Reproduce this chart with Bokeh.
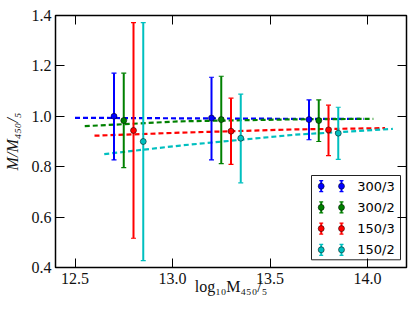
from bokeh.plotting import figure
from bokeh.models import Range1d, FixedTicker, PrintfTickFormatter, LinearAxis
from bokeh.core.properties import value
from bokeh.embed import file_html
from bokeh.resources import INLINE

# ---------------- data ----------------
series_names = ["300/3", "300/2", "150/3", "150/2"]
series_colors = ["#0000ff", "#008000", "#ff0000", "#00bfbf"]

x_300_3 = [12.70, 13.20, 13.70]
y_300_3 = [1.000, 0.993, 0.987]
lo_300_3 = [0.827, 0.827, 0.907]
hi_300_3 = [1.171, 1.155, 1.065]

x_300_2 = [12.75, 13.25, 13.75]
y_300_2 = [0.983, 0.987, 0.983]
lo_300_2 = [0.796, 0.812, 0.900]
hi_300_2 = [1.171, 1.159, 1.065]

x_150_3 = [12.80, 13.30, 13.80]
y_150_3 = [0.944, 0.941, 0.946]
lo_150_3 = [0.516, 0.809, 0.844]
hi_150_3 = [1.372, 1.072, 1.044]

x_150_2 = [12.85, 13.35, 13.85]
y_150_2 = [0.900, 0.913, 0.933]
lo_150_2 = [0.427, 0.736, 0.829]
hi_150_2 = [1.372, 1.088, 1.036]

fit_x_300_3 = [12.50, 13.04, 13.63, 13.98]
fit_y_300_3 = [0.994, 0.992, 0.990, 0.990]
fit_x_300_2 = [12.55, 13.04, 13.63, 14.03]
fit_y_300_2 = [0.961, 0.980, 0.988, 0.990]
fit_x_150_3 = [12.60, 13.04, 13.63, 14.09]
fit_y_150_3 = [0.923, 0.935, 0.948, 0.953]
fit_x_150_2 = [12.65, 13.04, 13.63, 14.13]
fit_y_150_2 = [0.850, 0.884, 0.927, 0.950]

x_ticks = [12.5, 13.0, 13.5, 14.0]
y_ticks = [0.4, 0.6, 0.8, 1.0, 1.2, 1.4]
x_lim = (12.4, 14.2)
y_lim = (0.4, 1.4)
x_title = "log\u2081\u2080M\u2084\u2085\u2080/\u2085"
y_title = "M/M\u2084\u2085\u2080/\u2085"

points = [
    (x_300_3, y_300_3, lo_300_3, hi_300_3),
    (x_300_2, y_300_2, lo_300_2, hi_300_2),
    (x_150_3, y_150_3, lo_150_3, hi_150_3),
    (x_150_2, y_150_2, lo_150_2, hi_150_2),
]
fits = [
    (fit_x_300_3, fit_y_300_3),
    (fit_x_300_2, fit_y_300_2),
    (fit_x_150_3, fit_y_150_3),
    (fit_x_150_2, fit_y_150_2),
]

# ---------------- figure ----------------
FW, FH = 351, 252
p = figure(frame_width=FW, frame_height=FH,
           x_range=Range1d(*x_lim), y_range=Range1d(*y_lim),
           output_backend="svg", toolbar_location=None,
           min_border_left=55, min_border_right=9,
           min_border_top=15, min_border_bottom=45)
p.background_fill_color = "white"
p.border_fill_color = "white"
p.outline_line_color = "black"
p.outline_line_width = 1.5
p.xgrid.visible = False
p.ygrid.visible = False

SERIF = "Liberation Serif"

for ax, ticks in ((p.xaxis[0], x_ticks), (p.yaxis[0], y_ticks)):
    ax.ticker = FixedTicker(ticks=ticks)
    ax.formatter = PrintfTickFormatter(format="%.1f")
    ax.major_tick_in = 9
    ax.major_tick_out = 0
    ax.minor_tick_line_color = None
    ax.axis_line_color = None
    ax.major_tick_line_color = "black"
    ax.major_label_text_font = SERIF
    ax.major_label_text_font_size = "16px"
    ax.major_label_text_color = "#111111"
    ax.axis_label_text_font = SERIF
    ax.axis_label_text_font_size = "16px"
    ax.axis_label_text_color = "#111111"
p.xaxis[0].major_label_standoff = 5
p.yaxis[0].major_label_standoff = 4
p.xaxis[0].axis_label = x_title
p.xaxis[0].axis_label_text_font_style = "normal"
p.xaxis[0].axis_label_standoff = -9
p.yaxis[0].axis_label = y_title
p.yaxis[0].axis_label_text_font_style = "italic"
p.yaxis[0].axis_label_standoff = 8

for side, ticks in (("above", x_ticks), ("right", y_ticks)):
    ax = LinearAxis(ticker=FixedTicker(ticks=ticks),
                    major_label_text_font_size="1px", major_label_text_color=None,
                    major_label_standoff=0,
                    major_tick_in=9, major_tick_out=0,
                    minor_tick_line_color=None, axis_line_color=None,
                    major_tick_line_color="black")
    p.add_layout(ax, side)

# fit lines
for (fx, fy), c in zip(fits, series_colors):
    p.line(fx, fy, line_color=c, line_width=2.2, line_dash="5 3")

# error bars and points
for (xs, ys, lo, hi), c in zip(points, series_colors):
    p.segment(x0=xs, y0=lo, x1=xs, y1=hi, line_color=c, line_width=2)
    p.scatter(xs + xs, lo + hi, marker="dash", size=5, line_color=c, line_width=1.2)
    p.scatter(xs, ys, marker="circle", size=6, fill_color=c, line_color="black", line_width=0.5)

# ---------------- legend (placed by frame pixel offsets) ----------------
dx = (x_lim[1] - x_lim[0]) / FW
dy = (y_lim[1] - y_lim[0]) / FH
def X(px):
    return x_lim[0] + px * dx
def Y(py_from_top):
    return y_lim[1] - py_from_top * dy

p.quad(left=[X(256)], right=[X(345)], top=[Y(160)], bottom=[Y(244.3)],
       fill_color="white", line_color="#222222", line_width=1)
row_y = [Y(170.7 + i * 21.2) for i in range(len(series_names))]
for i, (name, c) in enumerate(zip(series_names, series_colors)):
    yy = row_y[i]
    mx = [X(265.7), X(286)]
    p.segment(x0=mx, y0=[yy - 5.5 * dy] * 2, x1=mx, y1=[yy + 5.5 * dy] * 2,
              line_color=c, line_width=2)
    p.scatter(mx + mx, [yy - 5.5 * dy] * 2 + [yy + 5.5 * dy] * 2, marker="dash",
              size=4, line_color=c, line_width=1.2)
    p.scatter(mx, [yy, yy], marker="circle", size=6, fill_color=c,
              line_color="black", line_width=0.5)
p.text(x=[X(301.7)] * len(series_names), y=row_y, text=series_names,
       text_font=value("DejaVu Sans"), text_font_size="13px",
       text_baseline="middle", text_align="left", text_color="black")

open("out.html", "w").write(file_html(p, INLINE))
